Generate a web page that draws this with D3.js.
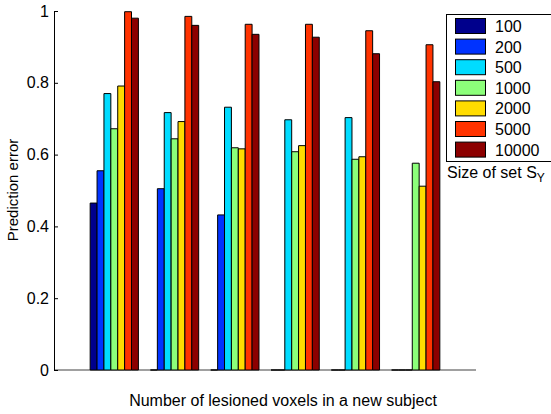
<!DOCTYPE html>
<meta charset="utf-8">
<style>
    body {
        margin: 0;
        background: #fff;
        font-family: "Liberation Sans", Arial, Helvetica, sans-serif;
    }

    svg {
        display: block;
    }

    text {
        font-family: "Liberation Sans", Arial, Helvetica, sans-serif;
        fill: #000;
    }

    .bar {
        stroke: #000;
        stroke-width: 1px;
    }
</style>

<body>
    <script src="https://d3js.org/d3.v7.min.js"></script>
    <script>

        // groups along x (no tick labels shown in the figure)
        var groups = [1, 2, 3, 4, 5, 6];

        // size of set S_Y (legend)
        var seriesNames = ["100", "200", "500", "1000", "2000", "5000", "10000"];
        var seriesColors = ["#00008c", "#0033ff", "#00dcff", "#8cff7a", "#ffdc00", "#ff3300", "#8c0000"];

        // prediction error, one array per series, one value per group
        var s100 = [0.465, 0, 0, 0, 0, 0];
        var s200 = [0.555, 0.505, 0.432, 0, 0, 0];
        var s500 = [0.770, 0.717, 0.732, 0.697, 0.703, 0];
        var s1000 = [0.672, 0.644, 0.619, 0.608, 0.587, 0.576];
        var s2000 = [0.791, 0.692, 0.616, 0.625, 0.594, 0.512];
        var s5000 = [0.998, 0.985, 0.963, 0.963, 0.945, 0.906];
        var s10000 = [0.980, 0.960, 0.935, 0.927, 0.881, 0.803];
        var seriesValues = [s100, s200, s500, s1000, s2000, s5000, s10000];

        var yTicks = [0, 0.2, 0.4, 0.6, 0.8, 1];

        var width = 551,
            height = 414;

        var margin = { top: 11, left: 54 },
            plotW = 422,
            plotH = 359;

        var svg = d3.select("body")
            .append("svg")
            .attr("width", width)
            .attr("height", height);

        var x = d3.scaleLinear()
            .domain([0, 7])
            .range([margin.left, margin.left + plotW]);

        var y = d3.scaleLinear()
            .domain([0, 1])
            .range([margin.top + plotH, margin.top]);

        var groupWidth = 0.8;
        var barW = groupWidth / seriesNames.length;

        // baseline (under the bars so empty bars show black)
        svg.append("line")
            .attr("x1", x(0)).attr("x2", x(7))
            .attr("y1", y(0)).attr("y2", y(0))
            .style("stroke", "#808080")
            .style("stroke-width", 1.5);

        /* ------- BARS -------*/

        var barData = [];
        seriesValues.forEach(function (vals, j) {
            vals.forEach(function (v, i) {
                barData.push({ g: groups[i], s: j, v: v });
            });
        });

        // paths rather than rects so zero bars still show their outline
        svg.append("g")
            .selectAll("path")
            .data(barData)
            .join("path")
            .attr("class", "bar")
            .style("fill", function (d) { return seriesColors[d.s]; })
            .attr("d", function (d) {
                var x0 = x(d.g - groupWidth / 2 + d.s * barW);
                var x1 = x(d.g - groupWidth / 2 + (d.s + 1) * barW);
                var y0 = y(0), y1 = y(d.v);
                return "M" + x0 + "," + y0 + "V" + y1 + "H" + x1 + "V" + y0 + "Z";
            });

        /* ------- AXES -------*/

        var yAxis = svg.append("g")
            .attr("transform", "translate(" + x(0) + ",0)")
            .call(d3.axisLeft(y)
                .tickValues(yTicks)
                .tickSizeInner(-4)
                .tickSizeOuter(0)
                .tickPadding(5)
                .tickFormat(function (d) { return d3.format("")(d); }));

        yAxis.select(".domain").style("stroke", "#000");
        yAxis.selectAll(".tick line").style("stroke", "#000");
        yAxis.selectAll(".tick text")
            .style("font-size", "16px");

        svg.append("text")
            .attr("transform", "translate(18,190) rotate(-90)")
            .attr("text-anchor", "middle")
            .style("font-size", "15px")
            .text("Prediction error");

        svg.append("text")
            .attr("x", 283)
            .attr("y", 406)
            .attr("text-anchor", "middle")
            .style("font-size", "16px")
            .text("Number of lesioned voxels in a new subject");

        /* ------- LEGEND -------*/

        var legend = svg.append("g")
            .attr("transform", "translate(446,14)");

        legend.append("rect")
            .attr("x", 0.5).attr("y", 0.5)
            .attr("width", 120).attr("height", 147)
            .style("fill", "#fff")
            .style("stroke", "#000");

        var item = legend.selectAll("g.item")
            .data(seriesNames)
            .join("g")
            .attr("class", "item")
            .attr("transform", function (d, i) { return "translate(0," + (4 + i * 20.6) + ")"; });

        item.append("rect")
            .attr("x", 9.5).attr("y", 0.5)
            .attr("width", 30).attr("height", 15)
            .style("fill", function (d, i) { return seriesColors[i]; })
            .style("stroke", "#000");

        item.append("text")
            .attr("x", 49)
            .attr("y", 14)
            .style("font-size", "16px")
            .text(function (d) { return d; });

        var cap = svg.append("text")
            .attr("x", 447)
            .attr("y", 178)
            .style("font-size", "16px")
            .text("Size of set S");
        cap.append("tspan")
            .attr("dy", 4)
            .style("font-size", "12px")
            .text("Y");

    </script>
</body>
